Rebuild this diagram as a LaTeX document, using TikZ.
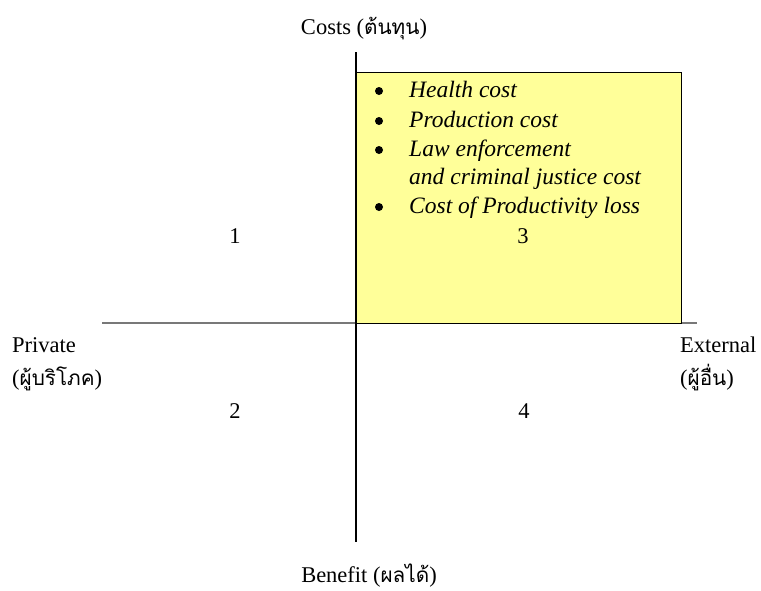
\documentclass[tikz,border=0pt]{standalone}
\usepackage{fontspec}
\setmainfont{Liberation Serif}
\newfontfamily\thaifont[Script=Thai,Scale=0.92]{Loma}
\definecolor{boxyellow}{RGB}{255,255,153}
\definecolor{axisgray}{RGB}{120,120,120}
\begin{document}
\begin{tikzpicture}[x=1pt,y=-1pt,
  lbl/.style={inner sep=0pt,font=\fontsize{22.5}{29}\selectfont},
  item/.style={lbl,anchor=base west,font=\fontsize{23.5}{29}\selectfont\itshape},
  dot/.style={circle,fill=black,inner sep=0pt,minimum size=8pt},
  num/.style={lbl,anchor=base}]
\useasboundingbox (0,0) rectangle (761,590);
% axes
\coordinate (hl) at (102,323);
\coordinate (hr) at (697,323);
\coordinate (vt) at (356,52);
\coordinate (vb) at (356,542);
\draw[axisgray,line width=2.2pt] (hl) -- (hr);
\node[draw=black,line width=1.3pt,fill=boxyellow,inner sep=0pt,anchor=north west,
  minimum width=325pt,minimum height=251pt] (box) at (356,72) {};
\draw[black,line width=1.3pt] (vt) -- (vb);
% bullet list
\node[dot] (b1) at (379,91) {};
\node[dot] (b2) at (379,121) {};
\node[dot] (b3) at (379,150) {};
\node[dot] (b4) at (379,207) {};
\node[item] (t1) at (409,97) {Health cost};
\node[item] (t2) at (409,127) {Production cost};
\node[item] (t3) at (409,156) {Law enforcement};
\node[item] (t3b) at (409,184) {and criminal justice cost};
\node[item] (t4) at (409,213) {Cost of Productivity loss};
% quadrant numbers
\node[num] (n1) at (235,243) {1};
\node[num] (n3) at (523,243) {3};
\node[num] (n2) at (235,418) {2};
\node[num] (n4) at (524,418) {4};
% axis labels
\node[lbl,anchor=base] (costs) at (364,34) {Costs ({\thaifont ต้นทุน})};
\node[lbl,anchor=base] (benefit) at (369,582) {Benefit ({\thaifont ผลได้})};
\node[lbl,anchor=base west] (priv) at (12,352) {Private};
\node[lbl,anchor=base west] (privth) at (12,385) {({\thaifont ผู้บริโภค})};
\node[lbl,anchor=base west] (ext) at (680,352) {External};
\node[lbl,anchor=base west] (extth) at (680,385) {({\thaifont ผู้อื่น})};
\end{tikzpicture}
\end{document}
